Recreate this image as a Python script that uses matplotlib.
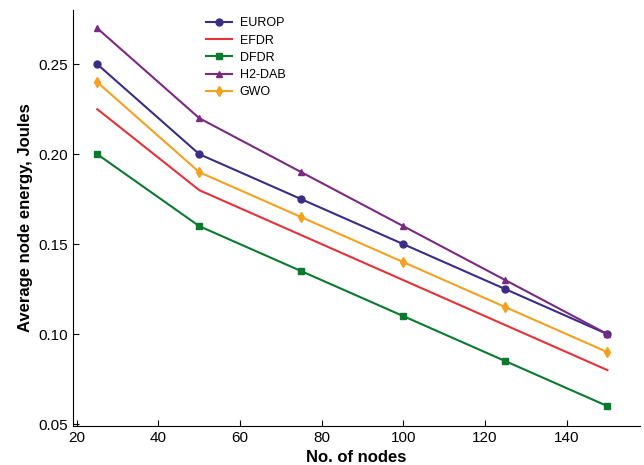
import matplotlib
matplotlib.use('Agg')
import matplotlib.pyplot as plt

plt.rcParams['font.family'] = ['Liberation Sans', 'DejaVu Sans']

nodes = [25, 50, 75, 100, 125, 150]
europ = [0.25, 0.20, 0.175, 0.15, 0.125, 0.10]
efdr = [0.225, 0.18, 0.155, 0.13, 0.105, 0.08]
dfdr = [0.20, 0.16, 0.135, 0.11, 0.085, 0.06]
h2dab = [0.27, 0.22, 0.19, 0.16, 0.13, 0.10]
gwo = [0.24, 0.19, 0.165, 0.14, 0.115, 0.09]

fig = plt.figure(figsize=(6.44, 4.65), dpi=100)
ax = fig.add_axes([0.113, 0.084, 0.881, 0.894])

ax.plot(nodes, europ, color='#3a2d86', marker='o', markersize=5, lw=1.5, label='EUROP')
ax.plot(nodes, efdr, color='#e53238', lw=1.5, label='EFDR')
ax.plot(nodes, dfdr, color='#0b7a2f', marker='s', markersize=5, lw=1.5, label='DFDR')
ax.plot(nodes, h2dab, color='#7a2a80', marker='^', markersize=5, lw=1.5, label='H2-DAB')
ax.plot(nodes, gwo, color='#f4a020', marker='d', markersize=5, lw=1.5, label='GWO')

ax.set_xlim(19, 158)
ax.set_ylim(0.049, 0.28)
ax.set_xticks([20, 40, 60, 80, 100, 120, 140])
ax.set_yticks([0.05, 0.10, 0.15, 0.20, 0.25])
ax.set_yticklabels(['0.05', '0.10', '0.15', '0.20', '0.25'])
ax.tick_params(direction='in', labelsize=11, length=4)
ax.spines['top'].set_visible(False)
ax.spines['right'].set_visible(False)

ax.set_xlabel('No. of nodes', fontsize=12, fontweight='bold')
ax.set_ylabel('Average node energy, Joules', fontsize=12, fontweight='bold')

ax.legend(loc='upper left', bbox_to_anchor=(0.215, 1.01), frameon=False, fontsize=9,
          handlelength=2.1, handletextpad=0.6, labelspacing=0.42)

fig.savefig('out.png', dpi=100)
